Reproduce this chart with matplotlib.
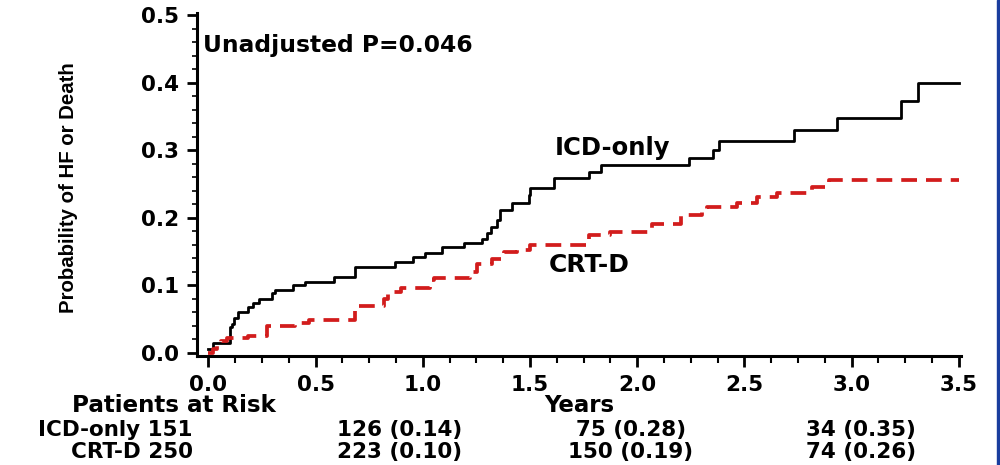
import numpy as np
import matplotlib
matplotlib.use('Agg')
import matplotlib.pyplot as plt
from matplotlib.patches import Rectangle
from matplotlib.ticker import MultipleLocator

# cumulative incidence of HF or death (step functions)
icd_t = [0.0, 0.023, 0.101, 0.11, 0.12, 0.14, 0.187, 0.21, 0.235, 0.296, 0.31,
         0.397, 0.451, 0.584, 0.685, 0.871, 0.955, 1.012, 1.089, 1.19, 1.275,
         1.298, 1.32, 1.345, 1.36, 1.416, 1.493, 1.50, 1.61, 1.774, 1.829,
         2.241, 2.355, 2.381, 2.731, 2.934, 3.229, 3.31, 3.50]
icd_p = [0.006, 0.0136, 0.038, 0.043, 0.051, 0.060, 0.068, 0.074, 0.080, 0.088,
         0.093, 0.100, 0.105, 0.112, 0.127, 0.134, 0.141, 0.148, 0.157, 0.163,
         0.169, 0.177, 0.186, 0.196, 0.211, 0.221, 0.233, 0.244, 0.258, 0.268,
         0.278, 0.288, 0.300, 0.314, 0.330, 0.347, 0.373, 0.399, 0.399]

crt_t = [0.0, 0.02, 0.04, 0.06, 0.086, 0.187, 0.272, 0.405, 0.467, 0.685, 0.817,
         0.84, 0.90, 1.035, 1.05, 1.222, 1.253, 1.323, 1.377, 1.44, 1.502, 1.774,
         1.875, 2.07, 2.202, 2.303, 2.327, 2.467, 2.56, 2.653, 2.817, 2.894, 3.50]
crt_p = [0.0, 0.006, 0.012, 0.017, 0.021, 0.024, 0.039, 0.044, 0.049, 0.069,
         0.080, 0.090, 0.095, 0.107, 0.110, 0.120, 0.132, 0.139, 0.149, 0.152,
         0.159, 0.174, 0.179, 0.191, 0.204, 0.210, 0.216, 0.222, 0.230, 0.236,
         0.246, 0.256, 0.256]

# patients at risk (cumulative probability)
risk_groups = ['ICD-only 151', 'CRT-D 250']
risk_icd = ['126 (0.14)', '75 (0.28)', '34 (0.35)']
risk_crt = ['223 (0.10)', '150 (0.19)', '74 (0.26)']

plt.rcParams['font.family'] = ['DejaVu Sans']
plt.rcParams['font.weight'] = 'bold'

fig = plt.figure(figsize=(10, 4.65), dpi=100)
ax = fig.add_axes([0.197, 0.2344, 0.764, 0.7376])

ax.step(icd_t, icd_p, where='post', color='black', linewidth=2.0)
ax.step(crt_t, crt_p, where='post', color='#d21c1c', linewidth=2.7,
        dashes=(4.2, 2.4))

ax.set_xlim(-0.053, 3.51)
ax.set_ylim(-0.005, 0.503)
ax.xaxis.set_major_locator(MultipleLocator(0.5))
ax.xaxis.set_minor_locator(MultipleLocator(0.125))
ax.yaxis.set_major_locator(MultipleLocator(0.1))
ax.yaxis.set_minor_locator(MultipleLocator(0.02))
ax.xaxis.set_major_formatter(lambda v, pos: f'{v:.1f}')
ax.yaxis.set_major_formatter(lambda v, pos: f'{v:.1f}')

for s in ['top', 'right']:
    ax.spines[s].set_visible(False)
for s in ['left', 'bottom']:
    ax.spines[s].set_linewidth(2.2)

ax.tick_params(axis='x', which='major', length=8, width=2, pad=6, labelsize=15.5)
ax.tick_params(axis='x', which='minor', length=5, width=1.5)
ax.tick_params(axis='y', which='major', length=7, width=2, pad=6, labelsize=15.5)
ax.tick_params(axis='y', which='minor', length=3.5, width=1.2)

ax.set_xlabel('Years', fontsize=16.5, fontweight='bold', labelpad=-1)
fig.text(0.068, 0.597, 'Probability of HF or Death', rotation=90,
         ha='center', va='center', fontsize=14.7, fontweight='bold',
         family=['Liberation Sans Narrow', 'Liberation Sans', 'DejaVu Sans'])

ax.text(-0.025, 0.455, 'Unadjusted P=0.046', fontsize=16.8, fontweight='bold',
        ha='left', va='center')
ax.text(1.884, 0.303, 'ICD-only', fontsize=17.5, fontweight='bold',
        ha='center', va='center')
ax.text(1.776, 0.130, 'CRT-D', fontsize=18, fontweight='bold',
        ha='center', va='center')

# risk table below the axis
fig.text(0.174, 1 - 405 / 465, 'Patients at Risk', fontsize=16.6,
         fontweight='bold', ha='center', va='center')
row_y = [1 - 436 / 465, 1 - 457.5 / 465]
col_x = [0.400, 0.631, 0.861]
for y, name, vals in zip(row_y, risk_groups, [risk_icd, risk_crt]):
    fig.text(0.193, y, name, fontsize=15.5, fontweight='bold',
             ha='right', va='baseline')
    for x, v in zip(col_x, vals):
        fig.text(x, y, v, fontsize=15.5, fontweight='bold',
                 ha='center', va='baseline')

# slide frame on the right edge
fig.patches.append(Rectangle((0.997, 0), 0.003, 1, transform=fig.transFigure,
                             color='#1a3d9e', zorder=10))

fig.savefig('out.png', dpi=100)
